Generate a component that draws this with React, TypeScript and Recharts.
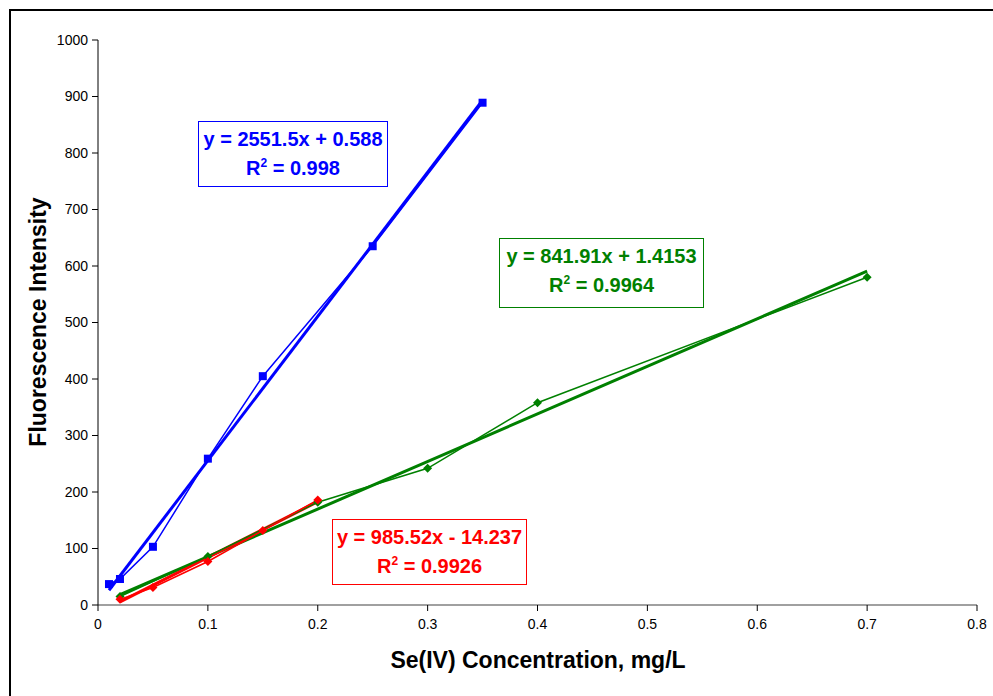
import { ComposedChart, Line, XAxis, YAxis } from 'recharts';

const FONT = '"Liberation Sans", Arial, Helvetica, sans-serif';

// Measured Se(IV) calibration points, one set per series
const blueConc = [0.01, 0.02, 0.05, 0.1, 0.15, 0.25, 0.35];
const blueIntensity = [37, 46, 103, 259, 405, 635, 889];

const redConc = [0.02, 0.05, 0.1, 0.15, 0.2];
const redIntensity = [10, 31, 77, 132, 186];

const greenConc = [0.02, 0.1, 0.2, 0.3, 0.4, 0.7];
const greenIntensity = [15, 86, 182, 242, 358, 580];

// Linear fits: [slope, intercept, R²]
const blueFit = [2551.5, 0.588, 0.998];
const redFit = [985.52, -14.237, 0.9926];
const greenFit = [841.91, 1.4153, 0.9964];

const xTicks = [0, 0.1, 0.2, 0.3, 0.4, 0.5, 0.6, 0.7, 0.8];
const yTicks = [0, 100, 200, 300, 400, 500, 600, 700, 800, 900, 1000];

const BLUE = '#0000ff';
const RED = '#ff0000';
const GREEN = '#008000';

const toPoints = (xs: number[], ys: number[]) => xs.map((x, i) => ({ x, y: ys[i] }));

const trend = (xs: number[], fit: number[]) => {
  const lo = xs[0];
  const hi = xs[xs.length - 1];
  return [
    { x: lo, y: fit[0] * lo + fit[1] },
    { x: hi, y: fit[0] * hi + fit[1] },
  ];
};

const Square = (props: any) => {
  const { cx, cy, fill } = props;
  if (cx == null || cy == null) return null;
  return <rect x={cx - 4} y={cy - 4} width={8} height={8} fill={fill} />;
};

const Diamond = (props: any) => {
  const { cx, cy, fill } = props;
  if (cx == null || cy == null) return null;
  const r = 4.5;
  return (
    <polygon
      points={`${cx},${cy - r} ${cx + r},${cy} ${cx},${cy + r} ${cx - r},${cy}`}
      fill={fill}
    />
  );
};

function EquationBox({
  fit,
  color,
  left,
  top,
  width,
  height,
}: {
  fit: number[];
  color: string;
  left: number;
  top: number;
  width: number;
  height: number;
}) {
  const sign = fit[1] < 0 ? '-' : '+';
  return (
    <div
      style={{
        position: 'absolute',
        left,
        top,
        width,
        height,
        boxSizing: 'border-box',
        border: `1px solid ${color}`,
        background: '#fff',
        color,
        fontFamily: FONT,
        fontWeight: 'bold',
        fontSize: 20,
        lineHeight: '29px',
        textAlign: 'center',
        paddingTop: 3,
        whiteSpace: 'nowrap',
      }}
    >
      <div>
        y = {fit[0]}x {sign} {Math.abs(fit[1])}
      </div>
      <div>
        R<sup style={{ fontSize: 12, verticalAlign: 'top', lineHeight: '18px' }}>2</sup> = {fit[2]}
      </div>
    </div>
  );
}

export default function App() {
  const tick = { fill: '#000', fontSize: 14, fontFamily: FONT };
  return (
    <div style={{ position: 'absolute', left: 0, top: 0, width: 993, height: 696, background: '#fff' }}>
      <div
        style={{
          position: 'absolute',
          left: 9,
          top: 9,
          width: 993,
          height: 696,
          borderLeft: '2px solid #000',
          borderTop: '2px solid #000',
        }}
      />
      <div style={{ position: 'absolute', left: 0, top: 0 }}>
        <ComposedChart width={993} height={696} margin={{ top: 40, right: 16, bottom: 61, left: 38 }}>
          <XAxis
            type="number"
            dataKey="x"
            domain={[0, 0.8]}
            ticks={xTicks}
            height={30}
            tick={tick}
            tickSize={6}
            tickMargin={8}
            axisLine={{ stroke: '#808080', strokeWidth: 1.5 }}
            tickLine={{ stroke: '#000' }}
          />
          <YAxis
            type="number"
            dataKey="y"
            domain={[0, 1000]}
            ticks={yTicks}
            width={60}
            tick={tick}
            tickSize={6}
            tickMargin={4}
            axisLine={{ stroke: '#000' }}
            tickLine={{ stroke: '#000' }}
          />
          <Line
            data={trend(greenConc, greenFit)}
            dataKey="y"
            stroke={GREEN}
            strokeWidth={3}
            dot={false}
            isAnimationActive={false}
          />
          <Line
            data={trend(redConc, redFit)}
            dataKey="y"
            stroke={RED}
            strokeWidth={3}
            dot={false}
            isAnimationActive={false}
          />
          <Line
            data={trend(blueConc, blueFit)}
            dataKey="y"
            stroke={BLUE}
            strokeWidth={3}
            dot={false}
            isAnimationActive={false}
          />
          <Line
            data={toPoints(greenConc, greenIntensity)}
            dataKey="y"
            stroke={GREEN}
            strokeWidth={1.5}
            dot={<Diamond fill={GREEN} />}
            isAnimationActive={false}
          />
          <Line
            data={toPoints(redConc, redIntensity)}
            dataKey="y"
            stroke={RED}
            strokeWidth={1.5}
            dot={<Diamond fill={RED} />}
            isAnimationActive={false}
          />
          <Line
            data={toPoints(blueConc, blueIntensity)}
            dataKey="y"
            stroke={BLUE}
            strokeWidth={1.5}
            dot={<Square fill={BLUE} />}
            isAnimationActive={false}
          />
        </ComposedChart>
      </div>
      <div
        style={{
          position: 'absolute',
          left: 38,
          top: 322,
          transform: 'translate(-50%, -50%) rotate(-90deg)',
          whiteSpace: 'nowrap',
          fontFamily: FONT,
          fontWeight: 'bold',
          fontSize: 23,
        }}
      >
        Fluorescence Intensity
      </div>
      <div
        style={{
          position: 'absolute',
          left: 538,
          top: 660,
          transform: 'translate(-50%, -50%)',
          whiteSpace: 'nowrap',
          fontFamily: FONT,
          fontWeight: 'bold',
          fontSize: 23,
        }}
      >
        Se(IV) Concentration, mg/L
      </div>
      <EquationBox fit={blueFit} color={BLUE} left={198} top={121} width={190} height={66} />
      <EquationBox fit={greenFit} color={GREEN} left={499} top={238} width={205} height={70} />
      <EquationBox fit={redFit} color={RED} left={332} top={519} width={195} height={66} />
    </div>
  );
}
